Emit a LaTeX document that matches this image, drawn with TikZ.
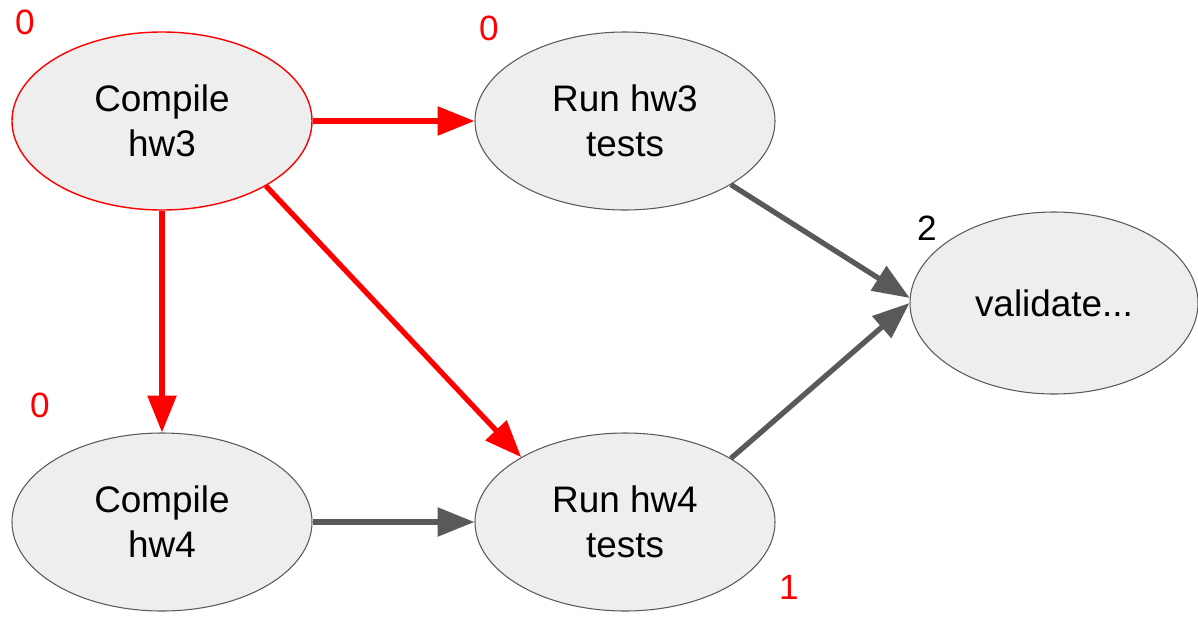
\documentclass[tikz,border=0pt]{standalone}
\usepackage{fontspec}
\setmainfont{Liberation Sans}
\usetikzlibrary{shapes,arrows.meta,positioning,calc}
\definecolor{taskfill}{HTML}{EEEEEE}
\definecolor{darkgray}{HTML}{595959}
\tikzstyle{task} = [draw=darkgray, line width=0.6pt, fill=taskfill, ellipse, minimum width=6cm, minimum height=3.56cm, align=center, inner sep=0pt, font=\fontsize{21}{25.6}\selectfont]
\tikzstyle{count} = [text=red, inner sep=0pt, font=\fontsize{20}{24}\selectfont]
\tikzstyle{hot} = [draw=red, line width=3pt, ->]
\tikzstyle{cold} = [draw=darkgray, line width=3pt, ->]

\begin{document}
\begin{tikzpicture}[auto, node distance=9.26cm, >={Triangle[length=21pt,width=16pt]}]
    \useasboundingbox (-3.24,2.42) rectangle (20.72,-9.90);
    % Tasks
    \node [task, draw=red, line width=0.8pt] (hw3) {Compile\\hw3};
    \node [task, right of=hw3] (hw3tests) {Run hw3\\tests};
    \node [task, below of=hw3, node distance=8.02cm] (hw4) {Compile\\hw4};
    \node [task, right of=hw4] (hw4tests) {Run hw4\\tests};
    \node [task, minimum width=5.76cm, minimum height=3.64cm] (validate) at ($(hw3tests)!0.5!(hw4tests)+(8.58,0.37)$) {validate...};

    % Counts
    \node [count] (hw3count) at (-2.74,1.98) {0};
    \node [count] (hw3testscount) at (6.54,1.86) {0};
    \node [count] (hw4count) at (-2.44,-5.68) {0};
    \node [count, text=black] (validatecount) at (15.30,-2.14) {2};
    \node [count] (hw4testscount) at (12.54,-9.32) {1};

    % Dependencies
    \draw [hot] (hw3) -- (hw3tests);
    \draw [hot] (hw3) -- (hw4);
    \draw [hot] (hw3.-32) -- (hw4tests.148);
    \draw [cold] (hw3tests.-31) -- (validate.178);
    \draw [cold] (hw4) -- (hw4tests);
    \draw [cold] (hw4tests.31) -- (validate.west);
\end{tikzpicture}
\end{document}
